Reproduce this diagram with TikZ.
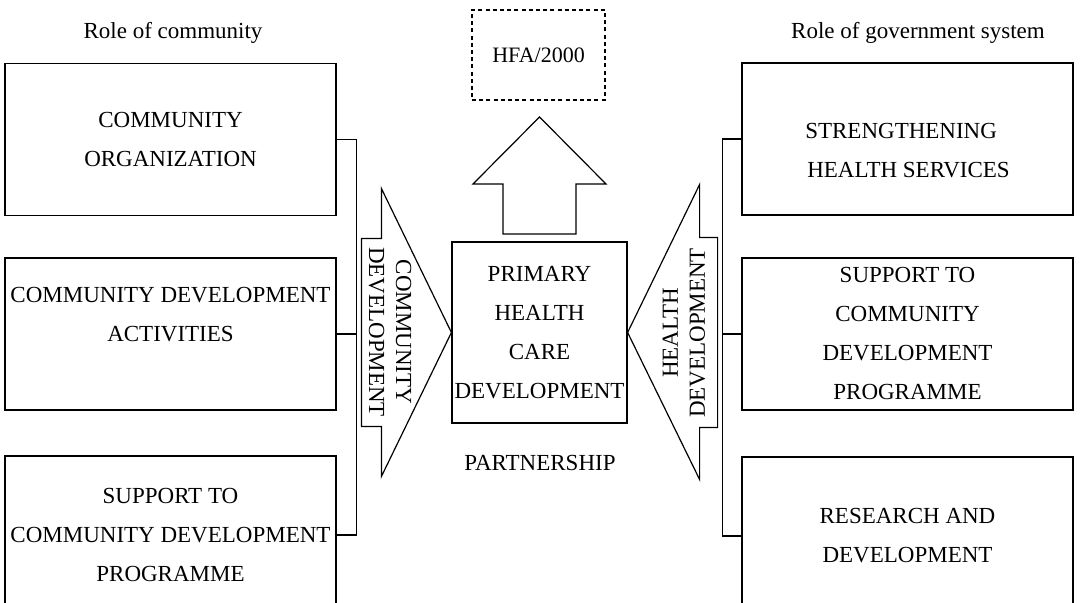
\documentclass[tikz,border=0pt]{standalone}
\usepackage{fontspec}
\setmainfont{Liberation Serif}
\newcommand{\boxfont}{\fontsize{11.5}{19.5}\selectfont}
\newcommand{\arrowfont}{\fontsize{11.5}{13.5}\selectfont}

\begin{document}
\begin{tikzpicture}[x=0.5pt,y=0.5pt,line width=0.6pt,
  rolebox/.style={draw, minimum width=165.5pt, minimum height=76pt, inner sep=0pt, align=center, font=\boxfont},
  arrowtext/.style={align=center, font=\arrowfont}]
\useasboundingbox (0,0) rectangle (1080,603);

\node[font=\fontsize{11.5}{14}\selectfont] (lrole) at (173,570) {Role of community};
\node[font=\fontsize{11.5}{14}\selectfont] (grole) at (918,570) {Role of government system};

% role of community
\node[rolebox] (cb1) at (170.5,463.5) {COMMUNITY\\ORGANIZATION};
\node[rolebox] (cb2) at (170.5,269) {COMMUNITY DEVELOPMENT\\ACTIVITIES\\\mbox{}};
\node[rolebox, minimum height=79pt] (cb3) at (170.5,68) {SUPPORT TO\\COMMUNITY DEVELOPMENT\\PROGRAMME};

% role of government system
\node[rolebox, align=left] (gb1) at (907.5,464) {\mbox{}\\STRENGTHENING\\\hspace{1pt}HEALTH SERVICES};
\node[rolebox] (gb2) at (907.5,269) {SUPPORT TO\\COMMUNITY\\DEVELOPMENT\\PROGRAMME};
\node[rolebox, minimum height=79pt] (gb3) at (907.5,67) {RESEARCH AND\\DEVELOPMENT};

\node[rolebox, minimum width=87.5pt, minimum height=90.5pt] (phc) at (539.5,270.5) {PRIMARY\\HEALTH\\CARE\\DEVELOPMENT};
\node[draw, dash pattern=on 2pt off 1.6pt, minimum width=66.5pt, minimum height=45pt, font=\fontsize{11}{13}\selectfont] (hfa) at (538.5,548) {HFA/2000};
\node[font=\fontsize{11.5}{14}\selectfont] (part) at (540,140) {PARTNERSHIP};

\draw (cb1.east) -- ++(20,0) |- (cb3.east);
\draw (cb2.east) -- ++(20,0);
\draw (gb1.west) -- ++(-19,0) |- (gb3.west);
\draw (gb2.west) -- ++(-19,0);

% block arrows
\draw (phc.west) -- ++(-70,144) -- ++(0,-50) -- ++(-20,0) -- ++(0,-188) -- ++(20,0) -- ++(0,-50) -- cycle;
\draw (phc.east) -- ++(72,148) -- ++(0,-53) -- ++(18,0) -- ++(0,-190) -- ++(-18,0) -- ++(0,-52) -- cycle;
\draw (503,369) -- (503,419) -- (473,419) -- (539.5,486) -- (606,419) -- (576,419) -- (576,369) -- cycle;

\node[arrowtext, rotate=-90] (cdev) at (390,271) {COMMUNITY\\DEVELOPMENT};
\node[arrowtext, rotate=90] (hdev) at (684,270) {HEALTH\\DEVELOPMENT};
\end{tikzpicture}
\end{document}
